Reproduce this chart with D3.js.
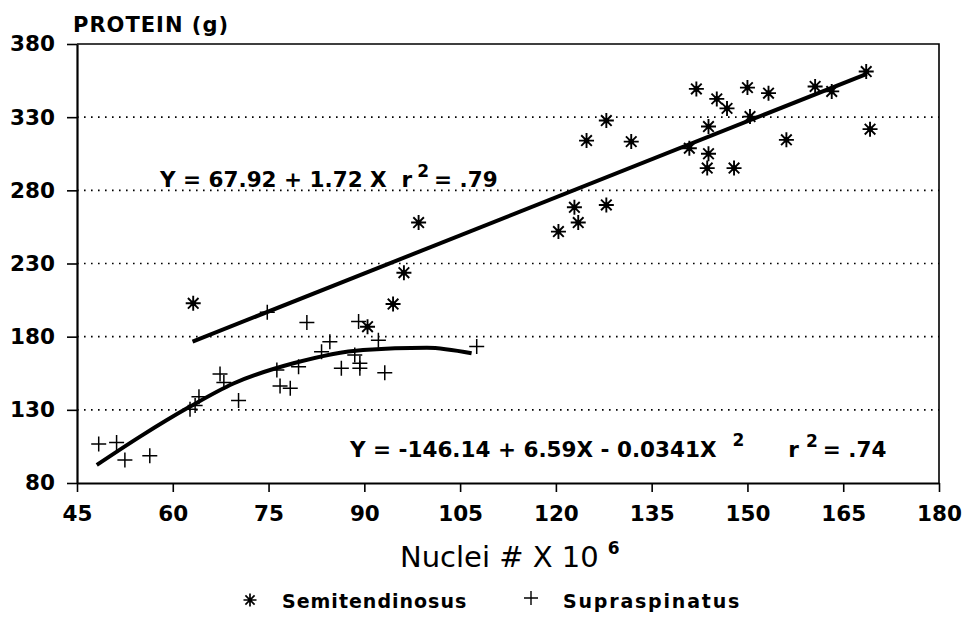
<!DOCTYPE html>
<html lang="en">
<head>
<meta charset="utf-8">
<title>Protein vs nuclei</title>
<script type="text/javascript" src="https://d3js.org/d3.v7.min.js"></script>
<style>
body { margin: 0; background: #fff; }
text { fill: #000; font-family: "DejaVu Sans", sans-serif; white-space: pre; }
.tick-label { font-size: 21.5px; font-weight: bold; }
.eq { font-size: 21.5px; font-weight: bold; }
.sup { font-size: 17px; font-weight: bold; }
</style>
</head>
<body>
<div id="chart"></div>
<script type="text/javascript">

// values
var semiX = [63.2, 98.5, 96.2, 94.5, 90.5, 120.4, 122.9, 123.5, 127.9, 124.8, 127.9, 131.8, 140.9, 142.0,
             143.9, 143.9, 143.7, 145.2, 146.8, 147.9, 150.0, 150.4, 153.3, 156.1, 160.6, 163.2, 168.6, 169.2];
var semiY = [202.8, 258, 223.7, 202.3, 186.8, 251.8, 268.4, 258, 270, 314, 327.7, 313.3, 308.8, 349.3,
             323.6, 305, 295.2, 342.5, 336, 295.2, 350.2, 330.4, 346.4, 314.5, 351, 347.6, 361.2, 321.8];

var supraX = [48.4, 51.2, 52.5, 56.4, 62.7, 63.5, 64.1, 67.4, 68.0, 70.3, 74.8, 76.3, 76.8, 78.4, 79.7,
              81.0, 83.3, 84.6, 86.4, 88.5, 89.1, 89.3, 89.3, 92.2, 93.2, 107.6];
var supraY = [106.7, 107.6, 95.7, 98.7, 130.4, 133, 139, 154.5, 148.6, 136.3, 196.7, 157.2, 146.3, 144.7, 159.5,
              189.6, 169.7, 176.6, 158.5, 167.5, 190.3, 161.8, 158.4, 177.6, 155.4, 173.2];

// fitted lines as drawn
var linFitX = [63.1, 168.7];
var linFitY = [176.6, 359.6];
var quadFitX = [48.1, 55, 62.7, 69.5, 78.9, 89.8, 99.8, 106.8];
var quadFitY = [92.3, 112, 132.2, 148, 161.8, 170.9, 172.5, 168.7];

var xTicks = [45, 60, 75, 90, 105, 120, 135, 150, 165, 180];
var yTicks = [80, 130, 180, 230, 280, 330, 380];
var gridY = [130, 180, 230, 280, 330];

var w = 968, h = 640;
var mLeft = 77, mRight = 939, mTop = 44, mBottom = 483;

var svg = d3.select("#chart").append("svg")
    .attr("width", w).attr("height", h);

var x = d3.scaleLinear().domain([45, 180]).range([mLeft, mRight]);
var y = d3.scaleLinear().domain([80, 380]).range([mBottom, mTop]);

// grid
svg.append("g").selectAll("line").data(gridY).enter().append("line")
    .attr("x1", mLeft).attr("x2", mRight)
    .attr("y1", d => y(d)).attr("y2", d => y(d))
    .attr("stroke", "#000").attr("stroke-width", 1.6)
    .attr("stroke-dasharray", "1.6,5.4");

// frame top + right
svg.append("path")
    .attr("d", "M" + mLeft + "," + mTop + "H" + mRight + "V" + mBottom)
    .attr("fill", "none").attr("stroke", "#000").attr("stroke-width", 1.6);

// axes
var xAxis = svg.append("g").attr("transform", "translate(0," + mBottom + ")")
    .call(d3.axisBottom(x).tickValues(xTicks).tickSize(9).tickPadding(14).tickSizeOuter(0));
var yAxis = svg.append("g").attr("transform", "translate(" + mLeft + ",0)")
    .call(d3.axisLeft(y).tickValues(yTicks).tickSize(10).tickPadding(12).tickSizeOuter(0));

[xAxis, yAxis].forEach(function (a) {
  a.attr("font-family", null).attr("font-size", null);
  a.select(".domain").attr("stroke", "#000").attr("stroke-width", 2.2);
  a.selectAll(".tick line").attr("stroke", "#000").attr("stroke-width", 1.6);
  a.selectAll(".tick text").attr("class", "tick-label");
});

// fit lines
var line = d3.line().x(d => x(d[0])).y(d => y(d[1]));
svg.append("path").datum(d3.zip(linFitX, linFitY))
    .attr("d", line).attr("fill", "none").attr("stroke", "#000").attr("stroke-width", 4);
svg.append("path").datum(d3.zip(quadFitX, quadFitY))
    .attr("d", line.curve(d3.curveMonotoneX)).attr("fill", "none").attr("stroke", "#000").attr("stroke-width", 4);

// markers
function asterisk(s) {
  var a = s * 0.7071;
  return "M" + (-s) + ",0H" + s + "M0," + (-s) + "V" + s +
         "M" + (-a) + "," + (-a) + "L" + a + "," + a + "M" + (-a) + "," + a + "L" + a + "," + (-a);
}
function plus(s) {
  return "M" + (-s) + ",0H" + s + "M0," + (-s) + "V" + s;
}

svg.append("g").selectAll("path").data(d3.zip(semiX, semiY)).enter().append("path")
    .attr("transform", d => "translate(" + x(d[0]) + "," + y(d[1]) + ")")
    .attr("d", asterisk(7.5)).attr("stroke", "#000").attr("stroke-width", 1.9).attr("fill", "none");
svg.append("g").selectAll("circle").data(d3.zip(semiX, semiY)).enter().append("circle")
    .attr("cx", d => x(d[0])).attr("cy", d => y(d[1])).attr("r", 2.8).attr("fill", "#000");

svg.append("g").selectAll("path").data(d3.zip(supraX, supraY)).enter().append("path")
    .attr("transform", d => "translate(" + x(d[0]) + "," + y(d[1]) + ")")
    .attr("d", plus(7.5)).attr("stroke", "#000").attr("stroke-width", 1.5).attr("fill", "none");

// texts
svg.append("text").text("PROTEIN (g)")
    .attr("x", 73).attr("y", 32)
    .style("font-size", "21px").style("font-weight", "bold").style("letter-spacing", "1px");

var eq1 = svg.append("text").attr("class", "eq").attr("x", 160).attr("y", 187);
eq1.append("tspan").text("Y = 67.92 + 1.72 X  r");
eq1.append("tspan").attr("class", "sup").attr("dx", 5).attr("dy", -10).text("2");
eq1.append("tspan").attr("dx", 5).attr("dy", 10).text("= .79");

var eq2 = svg.append("text").attr("class", "eq").attr("x", 350).attr("y", 457);
eq2.append("tspan").text("Y = -146.14 + 6.59X - 0.0341X");
eq2.append("tspan").attr("class", "sup").attr("dx", 16).attr("dy", -11).text("2");
eq2.append("tspan").attr("dx", 44).attr("dy", 11).text("r");
eq2.append("tspan").attr("class", "sup").attr("dx", 7).attr("dy", -10).text("2");
eq2.append("tspan").attr("dx", 5).attr("dy", 10).text("= .74");

var xt = svg.append("text").attr("x", 400).attr("y", 567).style("font-size", "29px");
xt.append("tspan").text("Nuclei # X 10");
xt.append("tspan").attr("dx", 9).attr("dy", -13).style("font-size", "17px").style("font-weight", "bold").text("6");

// legend
var legend = svg.append("g");
legend.append("path").attr("transform", "translate(250,600)").attr("d", asterisk(6.5))
    .attr("stroke", "#000").attr("stroke-width", 1.7);
legend.append("circle").attr("cx", 250).attr("cy", 600).attr("r", 2.2).attr("fill", "#000");
legend.append("text").text("Semitendinosus").attr("x", 282).attr("y", 608)
    .style("font-size", "19px").style("font-weight", "bold").style("letter-spacing", "1px");
legend.append("path").attr("transform", "translate(531,598)").attr("d", plus(7))
    .attr("stroke", "#000").attr("stroke-width", 1.4);
legend.append("text").text("Supraspinatus").attr("x", 563).attr("y", 608)
    .style("font-size", "19px").style("font-weight", "bold").style("letter-spacing", "1.8px");

</script>
</body>
</html>
